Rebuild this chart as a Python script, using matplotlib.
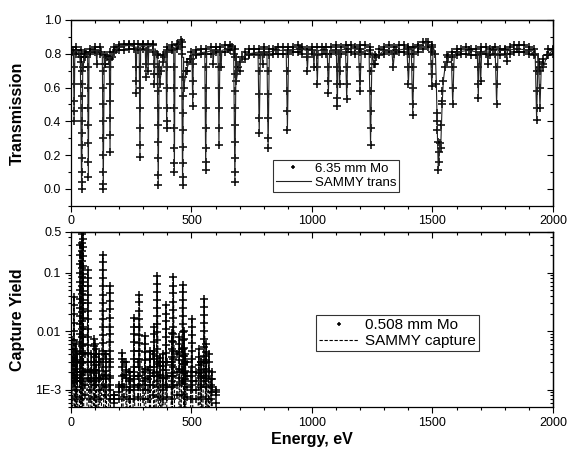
import matplotlib
matplotlib.use("Agg")
import matplotlib.pyplot as plt
import numpy as np
from matplotlib.ticker import MultipleLocator, FixedLocator, LogLocator, NullFormatter

plt.rcParams['font.family'] = ['Liberation Sans', 'DejaVu Sans']

# ---------------- transmission (6.35 mm Mo) ----------------
# resonance dips: energy (eV), minimum transmission, shoulder level, half width (eV)
dip_E = [13, 44, 72, 107, 134, 162, 270, 286, 311, 320, 346, 362, 397, 429, 463,
         505, 559, 590, 614, 623, 680, 781, 795, 818, 898, 981, 1008, 1022, 1068,
         1105, 1115, 1144, 1199, 1243, 1337, 1400, 1418, 1497, 1584, 1690, 1700,
         1730, 1766, 1808, 1932, 1946]
dip_T = [0.40, 0.00, 0.07, 0.74, 0.00, 0.22, 0.57, 0.19, 0.66, 0.70, 0.62, 0.02,
         0.36, 0.10, 0.02, 0.49, 0.11, 0.74, 0.26, 0.72, 0.04, 0.33, 0.74, 0.24,
         0.35, 0.70, 0.72, 0.62, 0.57, 0.49, 0.62, 0.53, 0.58, 0.26, 0.72, 0.62,
         0.44, 0.61, 0.50, 0.54, 0.64, 0.74, 0.50, 0.76, 0.41, 0.48]
dip_top = [0.81, 0.74, 0.80, 0.82, 0.78, 0.78, 0.84, 0.84, 0.84, 0.84, 0.83, 0.76,
           0.82, 0.84, 0.78, 0.79, 0.81, 0.82, 0.82, 0.82, 0.80, 0.81, 0.81, 0.81,
           0.82, 0.82, 0.82, 0.82, 0.82, 0.82, 0.82, 0.83, 0.83, 0.81, 0.82, 0.83,
           0.83, 0.84, 0.79, 0.81, 0.81, 0.82, 0.82, 0.82, 0.80, 0.75]
dip_w = [3, 5, 3, 3, 4, 3, 3, 3, 3, 3, 3, 4, 3, 3, 4, 3, 4, 3, 4, 3, 5, 5, 3, 5,
         5, 4, 3, 4, 5, 4, 3, 5, 6, 6, 6, 6, 6, 6, 6, 4, 4, 4, 6, 4, 6, 6]
# measured points seen along each dip flank
dip_levels = [
    [0.72, 0.62, 0.52, 0.46],
    [0.70, 0.62, 0.55, 0.48, 0.40, 0.33, 0.26, 0.18, 0.10, 0.04],
    [0.72, 0.60, 0.48, 0.38, 0.27, 0.16],
    [],
    [0.70, 0.60, 0.50, 0.40, 0.30, 0.20, 0.10, 0.03],
    [0.72, 0.62, 0.52, 0.42, 0.32],
    [0.72, 0.64],
    [0.72, 0.60, 0.48, 0.36, 0.26],
    [0.74],
    [],
    [0.74, 0.68],
    [0.68, 0.58, 0.48, 0.38, 0.28, 0.18, 0.08],
    [0.72, 0.60, 0.48, 0.40],
    [0.72, 0.60, 0.48, 0.36, 0.24, 0.15],
    [0.66, 0.55, 0.45, 0.35, 0.25, 0.15, 0.07],
    [0.74, 0.64, 0.56],
    [0.72, 0.60, 0.48, 0.36, 0.24, 0.16],
    [],
    [0.72, 0.60, 0.48, 0.36],
    [],
    [0.68, 0.58, 0.48, 0.38, 0.28, 0.18, 0.10],
    [0.70, 0.56, 0.42],
    [],
    [0.70, 0.56, 0.42, 0.30],
    [0.70, 0.58, 0.46],
    [],
    [],
    [0.72],
    [0.72, 0.64],
    [0.72, 0.62, 0.54],
    [0.70],
    [0.72, 0.62],
    [0.72, 0.64],
    [0.70, 0.58, 0.46, 0.36],
    [],
    [0.72],
    [0.72, 0.60, 0.50],
    [0.74, 0.68],
    [0.72, 0.60],
    [0.72, 0.62],
    [],
    [],
    [0.72, 0.62],
    [],
    [0.70, 0.58, 0.48],
    [0.70, 0.60],
]

# slowly varying level between dips (incl. the broad 1524 eV dip)
base_E = [0, 8, 20, 35, 40, 50, 56, 64, 80, 100, 125, 140, 150, 158, 170, 185,
          200, 240, 300, 340, 355, 368, 375, 385, 400, 420, 445, 455, 460, 468,
          478, 495, 520, 600, 650, 670, 676, 686, 695, 710, 740, 800, 850, 900,
          950, 1000, 1050, 1100, 1150, 1200, 1240, 1256, 1265, 1300, 1350, 1400,
          1440, 1475, 1500, 1512, 1516, 1519, 1521, 1524, 1526, 1528, 1531, 1534,
          1537, 1540, 1545, 1552, 1565, 1600, 1650, 1700, 1750, 1800, 1850, 1900,
          1925, 1960, 1975, 2000]
base_T = [0.82, 0.81, 0.82, 0.80, 0.75, 0.72, 0.78, 0.80, 0.81, 0.82, 0.81, 0.74,
          0.78, 0.77, 0.78, 0.82, 0.84, 0.85, 0.85, 0.85, 0.80, 0.62, 0.70, 0.78,
          0.82, 0.83, 0.85, 0.88, 0.80, 0.60, 0.70, 0.77, 0.80, 0.82, 0.83, 0.84,
          0.80, 0.64, 0.72, 0.78, 0.80, 0.81, 0.82, 0.82, 0.83, 0.82, 0.82, 0.82,
          0.83, 0.83, 0.82, 0.74, 0.78, 0.82, 0.82, 0.83, 0.84, 0.87, 0.84, 0.80,
          0.62, 0.40, 0.28, 0.11, 0.16, 0.22, 0.27, 0.24, 0.38, 0.50, 0.64, 0.72,
          0.78, 0.81, 0.82, 0.81, 0.82, 0.82, 0.83, 0.82, 0.80, 0.72, 0.79, 0.82]

# upper / lower edge of the scattered measured band (marker centres), every 20 eV
band_E = list(range(0, 2001, 20))
band_hi = [0.84, 0.84, 0.82, 0.81, 0.83, 0.84, 0.84, 0.79, 0.81, 0.84,
           0.85, 0.86, 0.86, 0.86, 0.86, 0.86, 0.86, 0.86, 0.79, 0.79,
           0.84, 0.85, 0.86, 0.87, 0.75, 0.81, 0.82, 0.83, 0.83, 0.84,
           0.84, 0.84, 0.85, 0.85, 0.83, 0.75, 0.81, 0.83, 0.83, 0.83,
           0.84, 0.83, 0.83, 0.84, 0.84, 0.84, 0.84, 0.85, 0.84, 0.83,
           0.84, 0.84, 0.84, 0.84, 0.84, 0.85, 0.84, 0.85, 0.85, 0.84,
           0.85, 0.85, 0.84, 0.79, 0.83, 0.84, 0.85, 0.84, 0.85, 0.85,
           0.84, 0.84, 0.85, 0.87, 0.87, 0.85, 0.45, 0.58, 0.79, 0.81,
           0.83, 0.83, 0.84, 0.83, 0.83, 0.84, 0.84, 0.83, 0.84, 0.83,
           0.83, 0.84, 0.85, 0.85, 0.85, 0.84, 0.83, 0.75, 0.77, 0.83,
           0.83]
band_lo = [0.80, 0.80, 0.78, 0.78, 0.80, 0.81, 0.80, 0.74, 0.77, 0.81,
           0.82, 0.82, 0.83, 0.83, 0.82, 0.83, 0.82, 0.81, 0.72, 0.75,
           0.81, 0.82, 0.83, 0.84, 0.70, 0.77, 0.79, 0.80, 0.80, 0.80,
           0.81, 0.81, 0.81, 0.82, 0.78, 0.70, 0.77, 0.79, 0.80, 0.79,
           0.80, 0.79, 0.80, 0.80, 0.80, 0.80, 0.81, 0.81, 0.80, 0.78,
           0.80, 0.79, 0.80, 0.80, 0.80, 0.81, 0.80, 0.81, 0.81, 0.80,
           0.81, 0.80, 0.80, 0.74, 0.79, 0.80, 0.81, 0.80, 0.81, 0.81,
           0.80, 0.80, 0.81, 0.83, 0.84, 0.81, 0.35, 0.52, 0.75, 0.78,
           0.79, 0.80, 0.80, 0.79, 0.79, 0.80, 0.80, 0.79, 0.80, 0.79,
           0.80, 0.80, 0.81, 0.81, 0.81, 0.80, 0.79, 0.72, 0.74, 0.79,
           0.80]

# ---------------- capture yield (0.508 mm Mo) ----------------
cap_E = [3, 12, 20, 26, 38, 44, 50, 70, 85, 96, 104, 115, 131, 145, 160, 213,
         230, 245, 261, 284, 307, 328, 345, 358, 370, 380, 394, 418, 425, 450,
         463, 470, 475, 501, 530, 540, 553, 562, 572, 584]
cap_Y = [0.007, 0.038, 0.006, 0.004, 0.3, 0.8, 0.5, 0.11, 0.004, 0.0072, 0.005,
         0.004, 0.20, 0.004, 0.06, 0.0043, 0.003, 0.002, 0.017, 0.042, 0.0083,
         0.0045, 0.012, 0.086, 0.0035, 0.004, 0.028, 0.0093, 0.083, 0.008, 0.062,
         0.01, 0.004, 0.016, 0.005, 0.003, 0.035, 0.006, 0.004, 0.002]
cap_w = [2, 4, 3, 3, 3, 3, 3, 4, 3, 3, 3, 3, 5, 3, 4, 4, 3, 3, 4, 5, 4, 3, 3, 5,
         3, 3, 4, 3, 5, 3, 6, 2, 3, 5, 3, 3, 6, 3, 3, 3]
cap_levels = [
    [0.005, 0.0036, 0.0026, 0.0019, 0.0014],
    [0.028, 0.02, 0.014, 0.01, 0.007, 0.005, 0.0035, 0.0025, 0.0018, 0.0013],
    [0.0044, 0.0032, 0.0023, 0.0016],
    [0.003, 0.002, 0.0014],
    [0.2, 0.14, 0.1, 0.07, 0.05, 0.035, 0.025, 0.018, 0.013, 0.009, 0.0065,
     0.0045, 0.003, 0.002, 0.0014],
    [0.45, 0.32, 0.23, 0.16, 0.12, 0.085, 0.06, 0.043, 0.03, 0.021, 0.015,
     0.011, 0.008, 0.0055, 0.004, 0.0028, 0.002, 0.0014],
    [0.38, 0.27, 0.19, 0.13, 0.095, 0.068, 0.048, 0.034, 0.024, 0.017, 0.012,
     0.0085, 0.006, 0.0042, 0.003, 0.0021, 0.0015],
    [0.08, 0.058, 0.042, 0.03, 0.022, 0.016, 0.011, 0.008, 0.0058, 0.0042,
     0.003, 0.0022, 0.0016],
    [0.003, 0.0021, 0.0015],
    [0.0055, 0.004, 0.003, 0.0022, 0.0016, 0.0012],
    [0.0036, 0.0026, 0.0019, 0.0014],
    [0.003, 0.0021, 0.0015],
    [0.15, 0.11, 0.08, 0.058, 0.042, 0.03, 0.022, 0.016, 0.012, 0.0085,
     0.0062, 0.0045, 0.0033, 0.0024, 0.0017, 0.0012],
    [0.003, 0.0021, 0.0015],
    [0.045, 0.033, 0.024, 0.017, 0.012, 0.0088, 0.0064, 0.0046, 0.0033,
     0.0024, 0.0017, 0.0012],
    [0.0033, 0.0024, 0.0017, 0.0012],
    [0.0022, 0.0016],
    [0.0015, 0.0011],
    [0.012, 0.0088, 0.0064, 0.0046, 0.0033, 0.0024, 0.0017, 0.0012],
    [0.031, 0.022, 0.016, 0.012, 0.0085, 0.0062, 0.0045, 0.0033, 0.0024,
     0.0017, 0.0012],
    [0.006, 0.0044, 0.0032, 0.0023, 0.0016, 0.0012],
    [0.0033, 0.0024, 0.0017, 0.0012],
    [0.0088, 0.0064, 0.0046, 0.0033, 0.0024, 0.0017],
    [0.064, 0.047, 0.034, 0.025, 0.018, 0.013, 0.0095, 0.007, 0.005, 0.0037,
     0.0027, 0.002, 0.0014],
    [0.0025, 0.0018],
    [0.003, 0.0022, 0.0016, 0.0012],
    [0.02, 0.015, 0.011, 0.008, 0.0058, 0.0042, 0.003, 0.0022, 0.0016, 0.0012],
    [0.0068, 0.005, 0.0036, 0.0026, 0.0019, 0.0014],
    [0.06, 0.044, 0.032, 0.023, 0.017, 0.012, 0.0088, 0.0064, 0.0046, 0.0033,
     0.0024, 0.0017, 0.0012],
    [0.006, 0.0044, 0.0032, 0.0023, 0.0016],
    [0.046, 0.034, 0.025, 0.018, 0.013, 0.0095, 0.007, 0.005, 0.0037, 0.0027,
     0.002, 0.0014],
    [0.0072, 0.0052, 0.0038, 0.0027, 0.0019],
    [0.003, 0.0021, 0.0015],
    [0.012, 0.0086, 0.0062, 0.0045, 0.0033, 0.0024, 0.0017, 0.0012],
    [0.0036, 0.0026, 0.0019],
    [0.0022, 0.0016, 0.0012],
    [0.026, 0.019, 0.014, 0.01, 0.0073, 0.0053, 0.0038, 0.0028, 0.002, 0.0014],
    [0.0044, 0.0032, 0.0023, 0.0016],
    [0.003, 0.0021],
    [0.0015, 0.0011],
]
cap_floor = 0.0003

# scattered background points, every 20 eV up to 600 eV (four rows)
floor_E = list(range(0, 601, 20))
floor_hi = [0.003, 0.003, 0.003, 0.004, 0.002, 0.006, 0.003, 0.004, 0.003,
            0.0008, 0.0012, 0.003, 0.002, 0.002, 0.003, 0.002, 0.0022, 0.004,
            0.003, 0.0025, 0.003, 0.003, 0.004, 0.005, 0.003, 0.002, 0.002,
            0.003, 0.003, 0.0015, 0.001]
floor_m2 = [0.0017, 0.0016, 0.0018, 0.002, 0.0014, 0.0022, 0.0016, 0.0018,
            0.0016, 0.0008, 0.0011, 0.0018, 0.0014, 0.0015, 0.0017, 0.0014,
            0.0015, 0.0019, 0.0017, 0.0016, 0.0017, 0.0017, 0.002, 0.0022,
            0.0017, 0.0014, 0.0014, 0.0017, 0.0017, 0.0012, 0.0009]
floor_m1 = [0.0011, 0.001, 0.0011, 0.0012, 0.001, 0.0012, 0.001, 0.0011,
            0.001, 0.0007, 0.0009, 0.0011, 0.001, 0.001, 0.0011, 0.001,
            0.001, 0.0012, 0.0011, 0.001, 0.0011, 0.0011, 0.0012, 0.0013,
            0.0011, 0.001, 0.001, 0.0011, 0.0011, 0.0009, 0.0008]
floor_lo = [0.0007, 0.00075, 0.0007, 0.0008, 0.0007, 0.00075, 0.0007, 0.0008,
            0.0007, 0.0006, 0.0007, 0.00075, 0.0007, 0.0007, 0.00075, 0.0007,
            0.0007, 0.0008, 0.00075, 0.0007, 0.00075, 0.0007, 0.0008, 0.0008,
            0.00075, 0.0007, 0.0007, 0.00075, 0.0007, 0.0007, 0.0006]


def dip_curve(bx, by, ex, ey, et, ew):
    pts = [(x, y) for x, y in zip(bx, by)
           if not any(e - w <= x <= e + w for e, w in zip(ex, ew))]
    for e, y, t, w in zip(ex, ey, et, ew):
        pts += [(e - w, t), (e, y), (e + w, t)]
    pts.sort()
    return np.array(pts).T


fit_E, fit_T = dip_curve(base_E, base_T, dip_E, dip_T, dip_top, dip_w)

meas_E = list(base_E) + band_E + band_E + list(dip_E)
meas_T = list(base_T) + band_hi + band_lo + list(dip_T)
for e, lv in zip(dip_E, dip_levels):
    meas_E += [e] * len(lv)
    meas_T += lv

capfit_E, capfit_Y = dip_curve([], [], cap_E, cap_Y, [cap_floor] * len(cap_E), cap_w)

cmeas_E = floor_E * 4 + list(cap_E)
cmeas_Y = floor_hi + floor_m2 + floor_m1 + floor_lo + list(cap_Y)
for e, lv in zip(cap_E, cap_levels):
    cmeas_E += [e] * len(lv)
    cmeas_Y += lv

fig = plt.figure(figsize=(5.67, 4.51), dpi=100)
ax1 = fig.add_axes([0.1252, 0.5439, 0.8501, 0.4118])
ax2 = fig.add_axes([0.1252, 0.0969, 0.8501, 0.3894])

mk = dict(linestyle='none', marker='+', color='black', markersize=6,
          markeredgewidth=1.1)
ax1.plot(meas_E, meas_T, label='6.35 mm Mo', **mk)
ax1.plot(fit_E, fit_T, color='#222222', linewidth=0.8, label='SAMMY trans')
ax1.set_xlim(0, 2000)
ax1.set_ylim(-0.1, 1.0)
ax1.set_ylabel('Transmission', fontsize=11.5, fontweight='bold')
ax1.yaxis.set_label_coords(-0.095, 0.5)
ax1.yaxis.set_major_locator(FixedLocator([0.0, 0.2, 0.4, 0.6, 0.8, 1.0]))
ax1.yaxis.set_minor_locator(MultipleLocator(0.1))
ax1.yaxis.set_major_formatter(plt.FuncFormatter(lambda v, p: '%.1f' % v))

ax2.plot(cmeas_E, cmeas_Y, label='0.508 mm Mo', **mk)
ax2.plot(capfit_E, capfit_Y, color='black', linewidth=0.8, linestyle=(0, (3, 1.5)),
         label='SAMMY capture')
ax2.set_yscale('log')
ax2.set_xlim(0, 2000)
ax2.set_ylim(5e-4, 0.5)
ax2.set_ylabel('Capture Yield', fontsize=11.5, fontweight='bold')
ax2.yaxis.set_label_coords(-0.095, 0.5)
ax2.set_xlabel('Energy, eV', fontsize=11.5, fontweight='bold', labelpad=2)
ybot = [1e-3, 1e-2, 0.1, 0.5]
ax2.yaxis.set_major_locator(FixedLocator(ybot))
ax2.yaxis.set_major_formatter(plt.FuncFormatter(
    lambda v, p: {1e-3: '1E-3', 1e-2: '0.01', 0.1: '0.1', 0.5: '0.5'}.get(v, '')))
ax2.yaxis.set_minor_locator(LogLocator(base=10, subs=np.arange(2, 10)))
ax2.yaxis.set_minor_formatter(NullFormatter())

for ax in (ax1, ax2):
    ax.xaxis.set_major_locator(MultipleLocator(500))
    ax.xaxis.set_minor_locator(MultipleLocator(100))
    ax.tick_params(which='both', direction='out', labelsize=9, width=0.8, pad=3)
    ax.tick_params(which='major', length=4)
    ax.tick_params(which='minor', length=2.5)
    for s in ax.spines.values():
        s.set_linewidth(0.9)
    # mirrored ticks on top / right point into the plot
    sx = ax.secondary_xaxis('top')
    sx.xaxis.set_major_locator(MultipleLocator(500))
    sx.xaxis.set_minor_locator(MultipleLocator(100))
    sx.tick_params(which='both', direction='in', labeltop=False, width=0.8)
    sx.tick_params(which='major', length=4)
    sx.tick_params(which='minor', length=2.5)
    sx.spines['top'].set_linewidth(0.9)
    sy = ax.secondary_yaxis('right')
    sy.tick_params(which='both', direction='in', labelright=False, width=0.8)
    sy.tick_params(which='major', length=4)
    sy.tick_params(which='minor', length=2.5)
    sy.spines['right'].set_linewidth(0.9)
    if ax is ax1:
        sy.yaxis.set_major_locator(FixedLocator([0.0, 0.2, 0.4, 0.6, 0.8, 1.0]))
        sy.yaxis.set_minor_locator(MultipleLocator(0.1))
    else:
        sy.yaxis.set_major_locator(FixedLocator(ybot))
        sy.yaxis.set_minor_locator(LogLocator(base=10, subs=np.arange(2, 10)))
        sy.yaxis.set_minor_formatter(NullFormatter())

leg1 = ax1.legend(loc='lower left', bbox_to_anchor=(0.419, 0.074), fontsize=9.5,
                  frameon=True, fancybox=False, edgecolor='black', borderpad=0.25,
                  labelspacing=0.1, handlelength=2.6, handletextpad=0.3,
                  borderaxespad=0, markerscale=0.55)
leg1.get_frame().set_linewidth(0.8)
leg2 = ax2.legend(loc='lower left', bbox_to_anchor=(0.508, 0.321), fontsize=11,
                  frameon=True, fancybox=False, edgecolor='black', borderpad=0.2,
                  labelspacing=0.1, handlelength=2.6, handletextpad=0.4,
                  borderaxespad=0, markerscale=0.55)
leg2.get_frame().set_linewidth(0.8)

fig.savefig('out.png', dpi=100)
